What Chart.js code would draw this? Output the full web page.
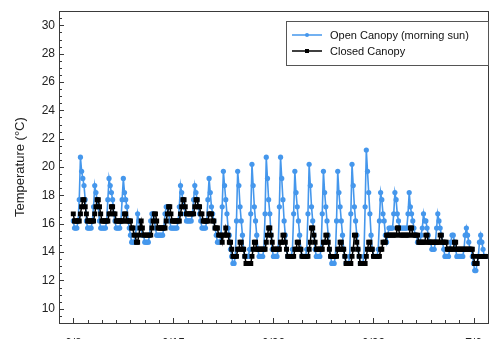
<!DOCTYPE html>
<html>
<head>
<meta charset="utf-8">
<script src="https://cdn.jsdelivr.net/npm/chart.js@4.4.1/dist/chart.umd.min.js"></script>
<style>
  html, body { margin: 0; padding: 0; background: #fff; }
  #wrap { width: 495px; height: 339px; }
</style>
</head>
<body>
<div id="wrap"><canvas id="c" width="495" height="339"></canvas></div>
<script>
// Logger readings every 2 hours (12 per day), one row per day, °C
const readingsPerDay = 12;

const openCanopy = [
  [16.2,15.7,15.7,15.7,16.2,17.7,20.7,19.7,19.2,18.7,17.7,16.2],
  [15.7,15.7,15.7,15.7,16.2,17.2,18.7,18.2,17.7,17.2,16.2,15.7],
  [15.7,15.7,15.7,15.7,16.2,17.7,19.2,18.7,18.2,17.7,16.7,16.2],
  [15.7,15.7,15.7,15.7,16.2,17.7,19.2,18.2,17.7,17.2,16.2,15.7],
  [15.2,14.7,14.7,14.7,15.2,15.7,16.7,16.2,15.7,15.7,15.2,15.2],
  [14.7,14.7,14.7,14.7,15.2,16.2,16.7,16.7,16.2,15.7,15.2,15.2],
  [15.2,15.2,15.2,15.2,15.7,16.7,17.2,17.2,16.7,16.2,15.7,15.7],
  [15.7,15.7,15.7,15.7,16.2,17.2,18.7,18.2,17.7,17.2,16.7,16.2],
  [16.2,16.2,16.2,16.2,16.7,17.7,18.7,18.2,17.7,17.2,16.7,16.2],
  [15.7,15.7,15.7,15.7,16.2,17.7,19.2,18.2,17.2,16.7,16.2,15.7],
  [15.2,14.7,14.7,14.7,15.2,17.2,19.7,18.7,17.7,16.7,15.7,15.2],
  [14.2,13.7,13.2,13.2,13.7,16.2,19.7,18.7,17.2,16.2,15.2,14.2],
  [13.7,13.7,13.7,13.7,14.2,16.7,20.2,18.7,17.2,16.2,15.2,14.2],
  [13.7,13.7,13.7,13.7,14.2,16.7,20.7,19.2,17.7,16.7,15.2,14.2],
  [13.7,13.7,13.7,13.7,14.2,17.2,20.7,19.2,17.7,16.2,15.2,14.2],
  [13.7,13.7,13.7,13.7,14.2,16.7,19.7,18.2,17.2,16.2,15.2,14.2],
  [13.7,13.7,13.7,13.7,14.2,16.7,20.2,18.7,17.2,16.2,15.2,14.2],
  [13.7,13.7,13.7,13.7,14.2,16.7,19.7,18.2,17.2,16.2,15.2,14.2],
  [13.7,13.2,13.2,13.2,13.7,16.2,19.7,18.2,17.2,16.2,15.2,14.2],
  [13.7,13.2,13.2,13.2,13.7,16.7,20.2,18.7,17.2,16.2,15.2,14.2],
  [13.7,13.2,13.2,13.2,13.7,17.2,21.2,19.7,18.2,16.7,15.2,14.2],
  [13.7,13.7,13.7,13.7,14.2,16.2,18.2,17.7,16.7,16.2,15.2,14.7],
  [15.2,15.7,15.7,15.7,15.7,16.7,18.2,17.7,16.7,16.2,15.7,15.7],
  [15.7,15.7,15.7,15.7,15.7,16.7,18.2,17.2,16.7,16.2,15.7,15.2],
  [15.2,14.7,14.7,14.7,15.2,15.7,16.7,16.2,16.2,15.7,15.2,14.7],
  [14.7,14.2,14.2,14.2,14.7,15.7,16.7,16.2,15.7,15.2,14.7,14.2],
  [13.7,13.7,13.7,13.7,14.2,14.7,15.2,15.2,14.7,14.2,13.7,13.7],
  [13.7,13.7,13.7,13.7,14.2,15.2,15.7,15.2,14.7,14.2,14.2,13.7],
  [13.2,12.7,12.7,13.2,13.7,14.7,15.2,14.7,14.2,13.7,13.7,13.7]
];

const closedCanopy = [
  [16.7,16.2,16.2,16.2,16.2,16.2,16.7,17.2,17.7,17.7,17.2,16.7],
  [16.2,16.2,16.2,16.2,16.2,16.2,16.7,17.2,17.7,17.7,17.2,16.7],
  [16.2,16.2,16.2,16.2,16.2,16.2,16.7,16.7,17.2,17.2,16.7,16.7],
  [16.2,16.2,16.2,16.2,16.2,16.2,16.2,16.7,16.7,16.2,16.2,16.2],
  [16.2,15.7,15.7,15.2,15.2,14.7,14.7,15.2,15.7,16.2,15.7,15.2],
  [15.2,15.2,15.2,15.2,15.2,15.2,15.7,16.2,16.7,16.7,16.2,15.7],
  [15.7,15.7,15.7,15.7,15.7,15.7,16.2,16.7,17.2,17.2,16.7,16.2],
  [16.2,16.2,16.2,16.2,16.2,16.2,16.7,17.2,17.7,17.7,17.2,16.7],
  [16.7,16.7,16.7,16.7,16.7,16.7,17.2,17.7,17.7,17.2,17.2,16.7],
  [16.7,16.2,16.2,16.2,16.2,16.2,16.7,16.7,16.7,16.2,16.2,15.7],
  [15.7,15.7,15.2,15.2,15.2,14.7,15.2,15.2,15.7,15.2,15.2,14.7],
  [14.7,14.2,13.7,13.7,13.7,13.7,14.2,14.2,14.7,14.7,14.2,14.2],
  [13.7,13.2,13.2,13.2,13.2,13.2,13.7,14.2,14.7,14.7,14.2,14.2],
  [14.2,14.2,14.2,14.2,14.2,14.2,14.7,15.2,15.7,15.7,15.2,14.7],
  [14.2,14.2,14.2,14.2,14.2,14.2,14.7,14.7,15.2,15.2,14.7,14.2],
  [13.7,13.7,13.7,13.7,13.7,13.7,14.2,14.2,14.7,14.7,14.2,14.2],
  [13.7,13.7,13.7,13.7,13.7,13.7,14.2,14.7,15.7,15.7,15.2,14.7],
  [14.2,14.2,14.2,14.2,14.2,14.2,14.7,14.7,15.2,15.2,14.7,14.2],
  [13.7,13.7,13.7,13.7,13.7,13.7,14.2,14.2,14.7,14.7,14.2,14.2],
  [13.7,13.2,13.2,13.2,13.2,13.2,13.7,14.2,15.2,15.2,14.7,14.2],
  [13.7,13.2,13.2,13.2,13.2,13.2,13.7,14.2,14.7,14.7,14.2,14.2],
  [13.7,13.7,13.7,13.7,13.7,13.7,14.2,14.2,14.7,14.7,14.7,15.2],
  [15.2,15.2,15.2,15.2,15.2,15.2,15.2,15.2,15.7,15.7,15.2,15.2],
  [15.2,15.2,15.2,15.2,15.2,15.2,15.2,15.7,15.7,15.2,15.2,15.2],
  [15.2,15.2,14.7,14.7,14.7,14.7,14.7,14.7,15.2,15.2,14.7,14.7],
  [14.7,14.7,14.7,14.7,14.7,14.7,14.7,14.7,15.2,15.2,14.7,14.7],
  [14.7,14.7,14.2,14.2,14.2,14.2,14.2,14.2,14.7,14.7,14.2,14.2],
  [14.2,14.2,14.2,14.2,14.2,14.2,14.2,14.2,14.2,14.2,14.2,14.2],
  [13.7,13.2,13.2,13.2,13.7,13.7,13.7,13.7,13.7,13.7,13.7,13.7]
];

// Weekly date labels on the time axis (day offsets 0, 7, 14, 21, 28)
const weekTickDays = [0, 7, 14, 21, 28];
const weekTickLabels = ['6/8', '6/15', '6/22', '6/29', '7/6'];

const seriesNames = ['Open Canopy (morning sun)', 'Closed Canopy'];
const openColor = '#4597ec';
const closedColor = '#000000';

function toPoints(days) {
  const pts = [];
  days.forEach((row, d) => {
    row.forEach((v, k) => pts.push({ x: d + k / readingsPerDay, y: v }));
  });
  return pts;
}

// Inward tick marks plus the surrounding plot frame
const frameAndTicks = {
  id: 'frameAndTicks',
  afterDatasetsDraw(chart) {
    const { ctx, chartArea: a, scales } = chart;
    ctx.save();
    ctx.strokeStyle = '#3a3a3a';
    ctx.lineWidth = 1;
    ctx.beginPath();
    scales.x.ticks.forEach(t => {
      const px = Math.round(scales.x.getPixelForValue(t.value)) + 0.5;
      const len = (t.value % 7 === 0) ? 5 : 3;
      ctx.moveTo(px, a.bottom);
      ctx.lineTo(px, a.bottom - len);
    });
    scales.y.ticks.forEach(t => {
      const py = Math.round(scales.y.getPixelForValue(t.value)) + 0.5;
      const len = (t.value % 2 === 0) ? 5 : 3;
      ctx.moveTo(a.left, py);
      ctx.lineTo(a.left + len, py);
    });
    ctx.stroke();
    ctx.strokeRect(Math.round(a.left) + 0.5, Math.round(a.top) + 0.5,
                   Math.round(a.right - a.left), Math.round(a.bottom - a.top));
    ctx.restore();
  }
};

// Boxed legend in the upper-right corner of the plot
const boxedLegend = {
  id: 'boxedLegend',
  afterDraw(chart) {
    const { ctx } = chart;
    const x0 = 286, y0 = 21, w = 202, h = 44;
    ctx.save();
    ctx.fillStyle = '#ffffff';
    ctx.fillRect(x0, y0, w, h);
    ctx.strokeStyle = '#555555';
    ctx.lineWidth = 1;
    ctx.strokeRect(x0 + 0.5, y0 + 0.5, w, h);
    ctx.font = '11px "Liberation Sans", Arial, sans-serif';
    ctx.textBaseline = 'middle';
    chart.data.datasets.slice().sort((p, q) => p.legendRank - q.legendRank).forEach((ds, i) => {
      const cy = y0 + 14 + i * 16;
      ctx.strokeStyle = ds.borderColor;
      ctx.lineWidth = 1.5;
      ctx.beginPath();
      ctx.moveTo(x0 + 6, cy);
      ctx.lineTo(x0 + 36, cy);
      ctx.stroke();
      ctx.fillStyle = ds.pointBackgroundColor;
      ctx.beginPath();
      if (ds.pointStyle === 'rect') {
        ctx.rect(x0 + 19, cy - 2, 4, 4);
      } else {
        ctx.arc(x0 + 21, cy, 2, 0, Math.PI * 2);
      }
      ctx.fill();
      ctx.fillStyle = '#111111';
      ctx.fillText(ds.label, x0 + 44, cy + 0.5);
    });
    ctx.restore();
  }
};

new Chart(document.getElementById('c'), {
  type: 'line',
  data: {
    datasets: [
      {
        label: seriesNames[1],
        legendRank: 1,
        data: toPoints(closedCanopy),
        borderColor: closedColor,
        backgroundColor: closedColor,
        pointBackgroundColor: closedColor,
        pointBorderColor: closedColor,
        pointStyle: 'rect',
        pointRadius: 3.5,
        pointBorderWidth: 0,
        borderWidth: 1.5,
        tension: 0,
        order: 0
      },
      {
        label: seriesNames[0],
        legendRank: 0,
        data: toPoints(openCanopy),
        borderColor: openColor,
        backgroundColor: openColor,
        pointBackgroundColor: openColor,
        pointBorderColor: openColor,
        pointStyle: 'circle',
        pointRadius: 2.6,
        pointBorderWidth: 0,
        borderWidth: 1.6,
        tension: 0,
        order: 1
      }
    ]
  },
  options: {
    responsive: false,
    animation: false,
    events: [],
    layout: { padding: { left: 9, right: 4, top: 11, bottom: 0 } },
    plugins: { legend: { display: false }, tooltip: { enabled: false } },
    scales: {
      x: {
        type: 'linear',
        min: -1,
        max: 29,
        grid: { display: false, drawTicks: false },
        border: { display: false },
        afterFit(scale) { scale.height = 16; },
        afterBuildTicks(scale) {
          const t = [];
          for (let d = 0; d <= 28; d++) t.push({ value: d });
          scale.ticks = t;
        },
        ticks: {
          autoSkip: false,
          maxRotation: 0,
          padding: 13,
          color: '#222',
          font: { family: '"Liberation Sans", Arial, sans-serif', size: 12 },
          callback(v) {
            const i = weekTickDays.indexOf(v);
            return i >= 0 ? weekTickLabels[i] : '';
          }
        }
      },
      y: {
        min: 9,
        max: 31,
        grid: { display: false, drawTicks: false },
        border: { display: false },
        afterFit(scale) { scale.width = 50; },
        afterBuildTicks(scale) {
          const t = [];
          for (let v = 9; v <= 31; v += 0.5) t.push({ value: v });
          scale.ticks = t;
        },
        title: {
          display: true,
          text: 'Temperature (°C)',
          color: '#222',
          padding: { top: 4, bottom: 0 },
          font: { family: '"Liberation Sans", Arial, sans-serif', size: 13 }
        },
        ticks: {
          autoSkip: false,
          padding: 4,
          color: '#222',
          font: { family: '"Liberation Sans", Arial, sans-serif', size: 12 },
          callback(v) {
            return (v % 2 === 0 && v >= 10 && v <= 30) ? String(v) : '';
          }
        }
      }
    }
  },
  plugins: [frameAndTicks, boxedLegend]
});
</script>
</body>
</html>
